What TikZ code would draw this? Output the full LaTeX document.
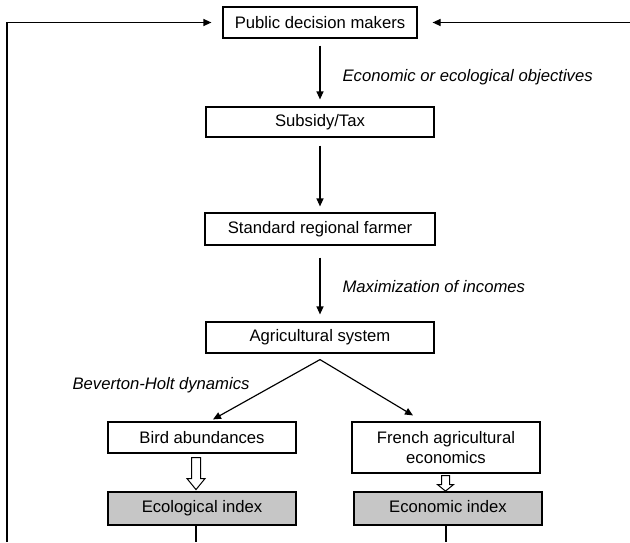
\documentclass[tikz,border=0pt]{standalone}
\usepackage{fontspec}
\setmainfont{Liberation Sans}
\usetikzlibrary{arrows.meta,calc}

\begin{document}
\begin{tikzpicture}[x=0.6pt, y=-0.6pt, line width=0.7pt,
		font=\fontsize{10}{12}\selectfont,
		>={Triangle[length=4.8pt,width=4.2pt]},
		box/.style={draw, inner sep=0pt, minimum width=112.8pt, minimum height=18.6pt, align=center},
		index/.style={box, fill=gray!45, minimum height=19.8pt, text height=7.2pt, text depth=2pt},
		note/.style={anchor=west, inner sep=0pt, font=\fontsize{10}{12}\selectfont\itshape},
		hollow/.style={draw, fill=white, line width=0.6pt}]
	\useasboundingbox (0,0) rectangle (630,542);

	\node[box, minimum width=116.4pt] (pdm) at (320,22.5) {Public decision makers};
	\node[box, minimum width=136.8pt, minimum height=18pt] (sub) at (320,122) {Subsidy/Tax};
	\node[box, minimum width=138pt, minimum height=19.2pt] (farm) at (320,229) {Standard regional farmer};
	\node[box, minimum width=136.8pt] (agri) at (320,337.5) {Agricultural system};

	\node[box] (bird) at (202,437.5) {Bird abundances};
	\node[box, minimum height=30.6pt] (french) at (446,447.5) {French agricultural\\economics};
	\node[index] (eco) at (202,508.5) {Ecological index};
	\node[index] (econ) at (448,508.5) {Economic index};

	\node[note] (obj) at (342,77) {Economic or ecological objectives};
	\node[note] (inc) at (342,287) {Maximization of incomes};
	\node[note] (bh) at (72,385) {Beverton-Holt dynamics};

	\draw[->, shorten <=4.2pt, shorten >=4.2pt] (pdm) -- (sub);
	\draw[->, shorten <=4.8pt, shorten >=3.6pt] (sub) -- (farm);
	\draw[->, shorten <=7.2pt, shorten >=4.2pt] (farm) -- (agri);

	\coordinate (split) at ($(agri.south)+(0,6)$);
	\draw[->] (split) -- ($(bird.north)+(11,-2)$);
	\draw[->] (split) -- ($(french.north)+(-33,-6)$);

	\draw[hollow] (bird.south) ++(-10.5,4) -- ++(9,0) -- ++(0,21) -- ++(4.5,0) -- ++(-9,11) -- ++(-9,-11) -- ++(4.5,0) -- cycle;
	\draw[hollow] (french.south) ++(-4.5,2) -- ++(8,0) -- ++(0,9) -- ++(4,0) -- ++(-8,6.5) -- ++(-8,-6.5) -- ++(4,0) -- cycle;

	\coordinate (ecoend) at (196,542);
	\coordinate (econend) at (446,542);
	\draw (eco.south -| ecoend) -- (ecoend);
	\draw (econ.south -| econend) -- (econend);

	\coordinate (lend) at (7,542);
	\coordinate (rend) at (630,22.5);
	\draw[->, shorten >=6.6pt] (lend) |- (pdm);
	\draw[->, shorten >=9pt] (rend) -- (pdm);
\end{tikzpicture}
\end{document}
